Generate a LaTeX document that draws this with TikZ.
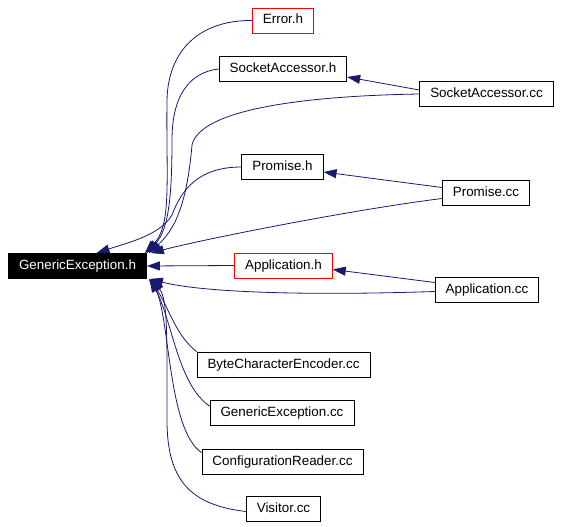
\documentclass[tikz,border=0pt]{standalone}
\usepackage{fontspec}
\setmainfont{Liberation Sans}
\usepackage{tikz}
\usetikzlibrary{arrows.meta, positioning, calc}

\definecolor{edgeblue}{RGB}{25,25,112}

\tikzset{
  file/.style={draw=black, line width=0.8pt, rectangle, minimum height=25pt,
    inner xsep=10.5pt, text height=9.5pt, text depth=2.5pt,
    font=\fontsize{13.4}{15}\selectfont},
  missing/.style={file, draw=red},
  edge/.style={edgeblue, line width=0.8pt, -{Triangle[length=13pt, width=9pt]}}
}

\begin{document}
\begin{tikzpicture}[x=1pt, y=-1pt]
  \useasboundingbox (0,0) rectangle (562,527);

  % The header that everything includes
  \node[file, fill=black, text=white] (ge) at (77.5,266) {GenericException.h};

  % Headers and sources on the right
  \node[missing] (err)  at (283,20.5)   {Error.h};
  \node[file]    (sah)  at (283,69)     {SocketAccessor.h};
  \node[file]    (sacc) at (486.5,94)   {SocketAccessor.cc};
  \node[file]    (ph)   at (282.5,167)  {Promise.h};
  \node[file]    (pcc)  at (486,192.5)  {Promise.cc};
  \node[missing] (ah)   at (283.5,265.5) {Application.h};
  \node[file]    (acc)  at (487,289.5)  {Application.cc};

  % Sources below
  \node[file] (bce)  at (283.5,364.5) {ByteCharacterEncoder.cc};
  \node[file] (gecc) at (282,413)     {GenericException.cc};
  \node[file] (crcc) at (282.5,461.5) {ConfigurationReader.cc};
  \node[file] (vcc)  at (283.5,508.5) {Visitor.cc};

  % Edges into GenericException.h from above
  \draw[edge] (err.west) .. controls (200,20) and (168,50) .. (167,100)
    .. controls (166,180) and (172,225) .. ([shift={(-2,0)}]ge.north east);
  \draw[edge] (sah.west) .. controls (190,72) and (172,95) .. (172,140)
    .. controls (172,200) and (168,230) .. ([shift={(0,0)}]ge.north east);
  \draw[edge] (sacc.west) .. controls (300,96) and (200,110) .. (192,145)
    .. controls (188,190) and (180,225) .. ([shift={(2,0)}]ge.north east);
  \draw[edge] (ph.west) .. controls (200,167) and (182,188) .. (172,215)
    .. controls (160,235) and (130,242) .. ([xshift=19pt]ge.north);
  \draw[edge] ([yshift=-6pt]pcc.west) .. controls (350,210) and (200,240) .. ([shift={(4,0)}]ge.north east);

  % Edges between the files on the right
  \draw[edge] ([yshift=4pt]sacc.west) -- ([yshift=-8pt]sah.east);
  \draw[edge] ([yshift=5pt]pcc.west) -- ([yshift=-5pt]ph.east);
  \draw[edge] ([yshift=7pt]acc.west) -- ([yshift=-4pt]ah.east);
  \draw[edge] (ah.west) -- (ge.east);
  \draw[edge] ([yshift=-2pt]acc.west) .. controls (300,296) and (200,292) .. ([shift={(3,0)}]ge.south east);

  % Edges into GenericException.h from below
  \draw[edge] (bce.north west) .. controls (175,335) and (168,305) .. ([shift={(2,0)}]ge.south east);
  \draw[edge] ([yshift=-6pt]gecc.north west) .. controls (178,385) and (172,320) .. ([shift={(3,0)}]ge.south east);
  \draw[edge] ([yshift=-4pt]crcc.north west) .. controls (168,430) and (170,320) .. ([shift={(4,0)}]ge.south east);
  \draw[edge] ([yshift=-3pt]vcc.west) .. controls (190,505) and (167,480) .. (167,420)
    .. controls (167,340) and (168,300) .. ([shift={(5,0)}]ge.south east);
\end{tikzpicture}
\end{document}
